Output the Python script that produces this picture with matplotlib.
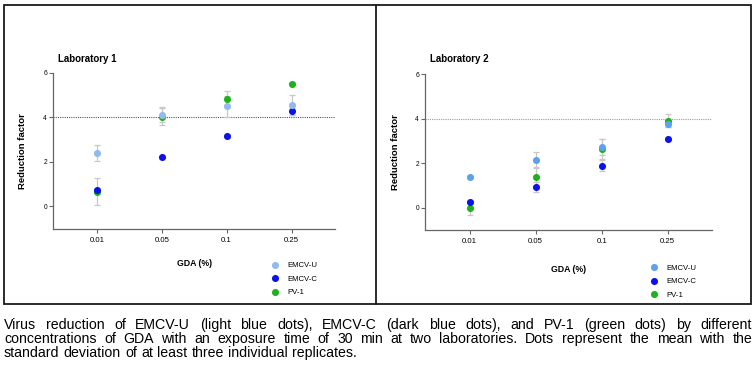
import matplotlib
matplotlib.use("Agg")
import matplotlib.pyplot as plt
from matplotlib.patches import Rectangle
from matplotlib.lines import Line2D
import numpy as np

# ---------------- data ----------------
categories = ["0.01", "0.05", "0.1", "0.25"]
series_names = ["EMCV-U", "EMCV-C", "PV-1"]

lab1_emcv_u = [2.40, 4.11, 4.49, 4.53]
lab1_emcv_u_sd = [0.35, 0.33, 0.48, 0.45]
lab1_emcv_c = [0.72, 2.21, 3.15, 4.26]
lab1_emcv_c_sd = [0.05, 0.05, 0.05, 0.15]
lab1_pv1 = [0.66, 4.02, 4.82, 5.51]
lab1_pv1_sd = [0.59, 0.38, 0.34, 0.08]

lab2_emcv_u = [1.38, 2.16, 2.72, 3.77]
lab2_emcv_u_sd = [0.05, 0.33, 0.37, 0.15]
lab2_emcv_c = [0.27, 0.93, 1.89, 3.11]
lab2_emcv_c_sd = [0.05, 0.22, 0.25, 0.05]
lab2_pv1 = [-0.01, 1.38, 2.65, 3.92]
lab2_pv1_sd = [0.32, 0.42, 0.45, 0.30]

threshold = 4
yticks = [0, 2, 4, 6]
titles = ["Laboratory 1", "Laboratory 2"]
xlabel = "GDA (%)"
ylabel = "Reduction factor"
caption_lines = [
    "Virus reduction of EMCV-U (light blue dots), EMCV-C (dark blue dots), and PV-1 (green dots) by different",
    "concentrations of GDA with an exposure time of 30 min at two laboratories. Dots represent the mean with the",
    "standard deviation of at least three individual replicates.",
]

# ---------------- style ----------------
W, H = 756, 372
FONT = ["Liberation Sans", "DejaVu Sans"]
NARROW = ["Liberation Sans Narrow", "Liberation Sans", "DejaVu Sans"]
plt.rcParams["font.family"] = FONT

c_u = ["#92BAEE", "#5CA2EE"]
c_c = "#0B12EC"
c_pv = "#1DB21D"
err_col = "#C8C8C8"
spine_col = "#666666"
dot_col = ["#555555", "#9A9A9A"]

fig = plt.figure(figsize=(W / 100, H / 100), dpi=100)


def px(x0, y0, x1, y1):
    return [x0 / W, 1 - y1 / H, (x1 - x0) / W, (y1 - y0) / H]


ax1 = fig.add_axes(px(53.3, 72.7, 335.0, 228.6))
ax2 = fig.add_axes(px(425.3, 74.3, 712.0, 230.0))

panels = [
    (ax1, lab1_emcv_u, lab1_emcv_u_sd, lab1_emcv_c, lab1_emcv_c_sd, lab1_pv1, lab1_pv1_sd),
    (ax2, lab2_emcv_u, lab2_emcv_u_sd, lab2_emcv_c, lab2_emcv_c_sd, lab2_pv1, lab2_pv1_sd),
]

x = np.arange(len(categories))
ms = 5.1
for i, (ax, u, usd, c, csd, p, psd) in enumerate(panels):
    ax.axhline(threshold, color=dot_col[i], lw=0.8, ls=(0, (1, 1)), zorder=1)
    for vals, sds in [(p, psd), (c, csd), (u, usd)]:
        ax.errorbar(x, vals, yerr=sds, fmt="none", ecolor=err_col, elinewidth=0.9,
                    capsize=2.4, capthick=0.9, zorder=2)
    hp, = ax.plot(x, p, "o", color=c_pv, ms=ms, mec="none", zorder=3, label=series_names[2])
    hc, = ax.plot(x, c, "o", color=c_c, ms=ms, mec="none", zorder=4, label=series_names[1])
    hu, = ax.plot(x, u, "o", color=c_u[i], ms=ms, mec="none", zorder=5, label=series_names[0])

    ax.set_xlim(-0.67, len(categories) - 1 + 0.67)
    ax.set_ylim(-1, 6)
    ax.set_xticks(x)
    ax.set_xticklabels(categories)
    ax.set_yticks(yticks)
    for s in ["top", "right"]:
        ax.spines[s].set_visible(False)
    for s in ["left", "bottom"]:
        ax.spines[s].set_color(spine_col)
        ax.spines[s].set_linewidth(0.9)
    ax.tick_params(axis="x", length=3, width=0.8, color=spine_col, labelsize=5.6, pad=3)
    ax.tick_params(axis="y", length=3, width=0.8, color=spine_col, labelsize=4.8, pad=1.5)
    ax.set_ylabel(ylabel, fontsize=6.8, fontweight="bold")
    ax.yaxis.set_label_coords(-0.092 if i == 0 else -0.088, 0.5)
    ax.set_xlabel(xlabel, fontsize=6.3, fontweight="bold")
    ax.xaxis.set_label_coords(0.5, -0.195 if i == 0 else -0.222)

    lx = [271.3, 650.3][i]
    ly = [262.0, 264.5][i]
    ax.legend(handles=[hu, hc, hp], loc="upper left",
              bbox_to_anchor=(lx / W, 1 - ly / H), bbox_transform=fig.transFigure,
              frameon=False, handlelength=1.0, handletextpad=1.1,
              labelspacing=0.78, borderpad=0, borderaxespad=0, numpoints=1,
              prop={"family": NARROW, "size": 5.6})

fig.text(58 / W, 1 - 58.8 / H, titles[0], fontsize=7, fontweight="bold", va="center", ha="left")
fig.text(430 / W, 1 - 59.3 / H, titles[1], fontsize=7, fontweight="bold", va="center", ha="left")

# outer frame and divider
fig.add_artist(Rectangle((4 / W, 1 - 304 / H), (751 - 4) / W, (304 - 4.7) / H,
                         transform=fig.transFigure, fill=False, ec="#1a1a1a", lw=1.3))
fig.add_artist(Line2D([376 / W, 376 / W], [1 - 304 / H, 1 - 4.7 / H],
                      transform=fig.transFigure, color="#1a1a1a", lw=1.3))

# caption, justified
CAP_FS = 10.2
fig.canvas.draw()
r = fig.canvas.get_renderer()
left, right = 4.0, 752.0
baselines = [329.0, 343.0, 357.0]
for li, line in enumerate(caption_lines):
    words = line.split()
    texts = [fig.text(0, 0, w, fontsize=CAP_FS, family=FONT, va="baseline", ha="left")
             for w in words]
    widths = [t.get_window_extent(r).width for t in texts]
    if li < len(caption_lines) - 1:
        gap = (right - left - sum(widths)) / (len(words) - 1)
    else:
        gap = 0.3 * CAP_FS * 100 / 72
    xx = left
    for t, wdt in zip(texts, widths):
        t.set_position((xx / W, 1 - baselines[li] / H))
        xx += wdt + gap

fig.savefig("out.png", dpi=100)
